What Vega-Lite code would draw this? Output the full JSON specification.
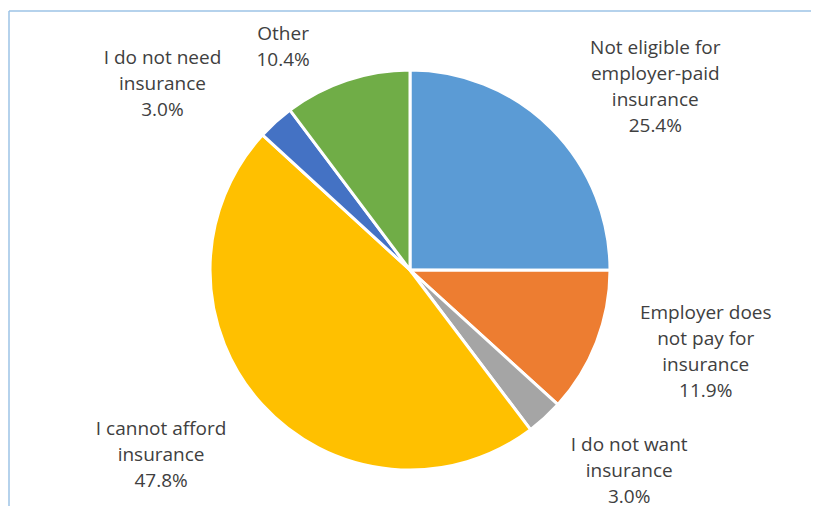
{
  "$schema": "https://vega.github.io/schema/vega-lite/v6.json",
  "width": 802,
  "height": 518,
  "autosize": {"type": "none"},
  "padding": {"left": 9, "top": 11, "right": 0, "bottom": 0},
  "background": "white",
  "view": {"stroke": "#9DC3E6", "strokeWidth": 1.5, "fill": "white", "strokeDash": [802, 518, 1320, 0]},
  "data": {
    "values": [
      {"idx": 1, "category": "Not eligible for employer-paid insurance", "value": 25.4, "label": "Not eligible for\nemployer-paid\ninsurance\n25.4%"},
      {"idx": 2, "category": "Employer does not pay for insurance", "value": 11.9, "label": "Employer does\nnot pay for\ninsurance\n11.9%"},
      {"idx": 3, "category": "I do not want insurance", "value": 3.0, "label": "I do not want\ninsurance\n3.0%"},
      {"idx": 4, "category": "I cannot afford insurance", "value": 47.8, "label": "I cannot afford\ninsurance\n47.8%"},
      {"idx": 5, "category": "I do not need insurance", "value": 3.0, "label": "I do not need\ninsurance\n3.0%"},
      {"idx": 6, "category": "Other", "value": 10.4, "label": "Other\n10.4%"}
    ]
  },
  "encoding": {
    "theta": {"field": "value", "type": "quantitative", "stack": true},
    "order": {"field": "idx", "type": "quantitative"},
    "color": {
      "field": "category",
      "type": "nominal",
      "legend": null,
      "scale": {
        "domain": ["Not eligible for employer-paid insurance", "Employer does not pay for insurance", "I do not want insurance", "I cannot afford insurance", "I do not need insurance", "Other"],
        "range": ["#5B9BD5", "#ED7D31", "#A5A5A5", "#FFC000", "#4472C4", "#70AD47"]
      }
    }
  },
  "layer": [
    {"mark": {"type": "arc", "outerRadius": 200, "stroke": "white", "strokeWidth": 3}},
    {
      "mark": {"type": "text", "radius": 300, "dx": 33, "dy": -10, "font": "Open Sans", "fontSize": 19, "lineHeight": 26, "lineBreak": "\n", "align": "center", "baseline": "middle"},
      "encoding": {"text": {"condition": {"test": "datum.idx === 1", "field": "label"}, "value": ""}, "color": {"value": "#404040"}}
    },
    {
      "mark": {"type": "text", "radius": 300, "dx": 16, "dy": -65, "font": "Open Sans", "fontSize": 19, "lineHeight": 26, "lineBreak": "\n", "align": "center", "baseline": "middle"},
      "encoding": {"text": {"condition": {"test": "datum.idx === 2", "field": "label"}, "value": ""}, "color": {"value": "#404040"}}
    },
    {
      "mark": {"type": "text", "radius": 300, "dx": 17, "dy": -47, "font": "Open Sans", "fontSize": 19, "lineHeight": 26, "lineBreak": "\n", "align": "center", "baseline": "middle"},
      "encoding": {"text": {"condition": {"test": "datum.idx === 3", "field": "label"}, "value": ""}, "color": {"value": "#404040"}}
    },
    {
      "mark": {"type": "text", "radius": 300, "dx": -27, "dy": -43, "font": "Open Sans", "fontSize": 19, "lineHeight": 26, "lineBreak": "\n", "align": "center", "baseline": "middle"},
      "encoding": {"text": {"condition": {"test": "datum.idx === 4", "field": "label"}, "value": ""}, "color": {"value": "#404040"}}
    },
    {
      "mark": {"type": "text", "radius": 300, "dx": -46, "dy": 10, "font": "Open Sans", "fontSize": 19, "lineHeight": 26, "lineBreak": "\n", "align": "center", "baseline": "middle"},
      "encoding": {"text": {"condition": {"test": "datum.idx === 5", "field": "label"}, "value": ""}, "color": {"value": "#404040"}}
    },
    {
      "mark": {"type": "text", "radius": 300, "dx": -32, "dy": 49, "font": "Open Sans", "fontSize": 19, "lineHeight": 26, "lineBreak": "\n", "align": "center", "baseline": "middle"},
      "encoding": {"text": {"condition": {"test": "datum.idx === 6", "field": "label"}, "value": ""}, "color": {"value": "#404040"}}
    }
  ]
}
